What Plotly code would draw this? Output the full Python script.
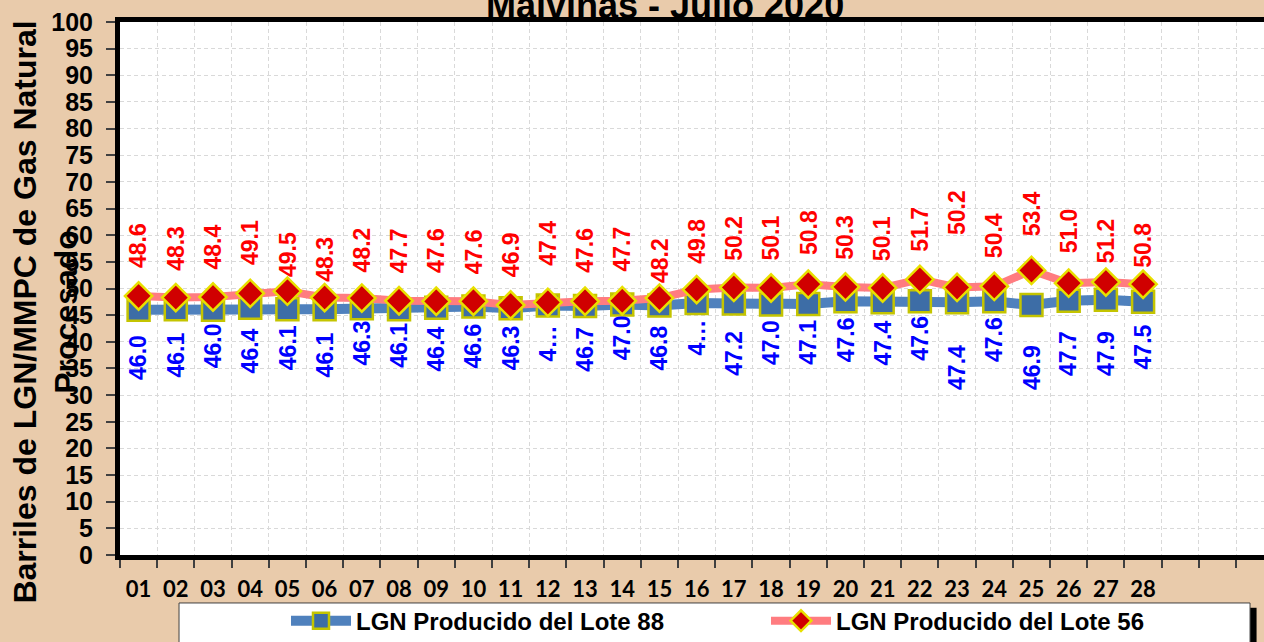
import plotly.graph_objects as go

# ---------------- data ----------------
days = ["01", "02", "03", "04", "05", "06", "07", "08", "09", "10",
        "11", "12", "13", "14", "15", "16", "17", "18", "19", "20",
        "21", "22", "23", "24", "25", "26", "27", "28"]

lote88 = [46.0, 46.1, 46.0, 46.4, 46.1, 46.1, 46.3, 46.1, 46.4, 46.6,
          46.3, 46.8, 46.7, 47.0, 46.8, 47.3, 47.2, 47.0, 47.1, 47.6,
          47.4, 47.6, 47.4, 47.6, 46.9, 47.7, 47.9, 47.5]

lote56 = [48.6, 48.3, 48.4, 49.1, 49.5, 48.3, 48.2, 47.7, 47.6, 47.6,
          46.9, 47.4, 47.6, 47.7, 48.2, 49.8, 50.2, 50.1, 50.8, 50.3,
          50.1, 51.7, 50.2, 50.4, 53.4, 51.0, 51.2, 50.8]

name88 = "LGN Producido del Lote 88"
name56 = "LGN Producido del Lote 56"
title_text = "Malvinas - Julio 2020"
ytitle = "Barriles de LGN/MMPC de Gas Natural<br>Procesado"
truncated88 = {11, 15}  # labels shown truncated ("4…") in the original

# label pixel offsets (styling only)
off56 = [28, 27, 27, 28, 14, 16, 26, 27, 28, 27, 28, 37, 28, 29, 15, 26,
         27, 27, 29, 27, 27, 28, 52, 28, 34, 30, 19, 16]
off88 = [23, 21, 12, 19, 14, 21, 10, 12, 17, 15, 15, 18, 19, 9, 18, 15,
         25, 14, 14, 14, 16, 12, 41, 14, 38, 28, 29, 21]

# ---------------- styles ----------------
BG = "#E9CBAB"
FONT = "Liberation Sans, Arial, sans-serif"
N_SLOTS_VISIBLE = 30.75

xs = list(range(len(days)))

fig = go.Figure()

fig.add_trace(go.Scatter(
    x=xs, y=lote88, name=name88, mode="lines+markers",
    line=dict(color="#4F81BD", width=10),
    marker=dict(symbol="square", size=22, color="#3D6DA6",
                line=dict(color="#C4C400", width=2.5)),
))
fig.add_trace(go.Scatter(
    x=xs, y=lote56, name=name56, mode="lines+markers",
    line=dict(color="#FF7C80", width=8),
    marker=dict(symbol="diamond", size=21, color="#D00000",
                line=dict(color="#E8E000", width=2.5)),
))

annotations = []
for i, v in enumerate(lote56):
    annotations.append(dict(
        x=xs[i], y=v, xref="x", yref="y", text=f"{v:.1f}",
        textangle=-90, showarrow=False, xanchor="center", yanchor="bottom",
        yshift=off56[i] - 2, font=dict(family=FONT, size=23, color="#FF0000", weight="bold")))
for i, v in enumerate(lote88):
    txt = "4…" if i in truncated88 else f"{v:.1f}"
    annotations.append(dict(
        x=xs[i], y=v, xref="x", yref="y", text=txt,
        textangle=-90, showarrow=False, xanchor="center", yanchor="top",
        yshift=-off88[i], font=dict(family=FONT, size=23, color="#0000FF", weight="bold")))

# title (cut at the top as in the original)
annotations.append(dict(
    x=0.476, y=1, xref="paper", yref="paper", text=title_text, showarrow=False,
    xanchor="center", yanchor="bottom", yshift=-6,
    font=dict(family=FONT, size=36, color="black", weight="bold")))

# y-axis title
annotations.append(dict(
    x=-0.065, y=0.456, xref="paper", yref="paper", text=ytitle, showarrow=False,
    textangle=-90, xanchor="center", yanchor="middle",
    font=dict(family=FONT, size=32, color="black", weight="bold")))

shapes = [
    # legend shadow
    dict(type="rect", xref="paper", yref="paper", x0=0.9878, x1=0.9935,
         y0=-0.20, y1=-0.099, fillcolor="black", line=dict(width=0), layer="above"),
    # legend box
    dict(type="rect", xref="paper", yref="paper", x0=0.0516, x1=0.9878,
         y0=-0.20, y1=-0.090, fillcolor="white", line=dict(color="#404040", width=1),
         layer="above"),
]

fig.update_layout(
    width=1264, height=642,
    margin=dict(l=120, r=0, t=22, b=87, autoexpand=False),
    paper_bgcolor=BG, plot_bgcolor="white",
    showlegend=True,
    legend=dict(orientation="h", x=0.1451, y=-0.124, xanchor="left", yanchor="middle",
                bgcolor="rgba(0,0,0,0)", borderwidth=0, entrywidth=405, itemwidth=60,
                font=dict(family=FONT, size=24, color="black", weight="bold")),
    annotations=annotations,
    shapes=shapes,
    xaxis=dict(
        range=[-0.5, -0.5 + N_SLOTS_VISIBLE], automargin=False,
        tickmode="array", tickvals=xs, ticktext=days,
        ticks="", showgrid=False, zeroline=False,
        showline=True, linecolor="black", linewidth=5, mirror=True,
        ticklabelstandoff=11,
        tickfont=dict(family="Lato, Open Sans, sans-serif", size=22, color="black", weight="bold"),
        minor=dict(tickmode="array", tickvals=[k - 0.5 for k in range(32)],
                   ticks="outside", ticklen=8, tickcolor="#404040", tickwidth=1.5,
                   showgrid=True, gridcolor="#D9D9D9", griddash="4px,3px", gridwidth=1),
    ),
    yaxis=dict(
        range=[0, 100], tickmode="linear", tick0=0, dtick=5, automargin=False,
        ticks="outside", ticklen=9, tickcolor="#404040", tickwidth=1.5,
        showgrid=True, gridcolor="#D9D9D9", griddash="4px,3px", gridwidth=1,
        zeroline=False, showline=True, linecolor="black", linewidth=5,
        ticklabelstandoff=8,
        tickfont=dict(family=FONT, size=25, color="black", weight="bold"),
    ),
)

fig.write_html(
    "out.html",
    config={"displayModeBar": False},
    post_script="document.body.style.margin='0';document.body.style.overflow='hidden';",
)
